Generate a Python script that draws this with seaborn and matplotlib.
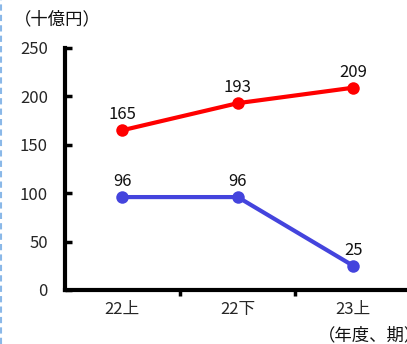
import matplotlib
matplotlib.use("Agg")
import matplotlib.pyplot as plt
import matplotlib.lines as mlines
import seaborn as sns
import pandas as pd

periods = ["22上", "22下", "23上"]
series_a = [165, 193, 209]
series_b = [96, 96, 25]
yticks = [0, 50, 100, 150, 200, 250]

sns.set_theme(style="white")
plt.rcParams["font.family"] = ["Noto Sans CJK JP", "DejaVu Sans"]

df = pd.DataFrame({
    "period": periods * 2,
    "x": list(range(len(periods))) * 2,
    "value": series_a + series_b,
    "series": ["a"] * 3 + ["b"] * 3,
})

fig = plt.figure(figsize=(4.07, 3.44), dpi=100)
ax = fig.add_axes([64.5 / 407, 1 - 290 / 344, (411 - 64.5) / 407, (290 - 48) / 344])

palette = {"a": "#ff0000", "b": "#4444dd"}
sns.lineplot(data=df, x="x", y="value", hue="series", palette=palette,
             marker="o", markersize=9, markeredgewidth=0, linewidth=3,
             legend=False, ax=ax)

for s, vals in (("a", series_a), ("b", series_b)):
    for i, v in enumerate(vals):
        ax.annotate(str(v), (i, v), xytext=(0, 5), textcoords="offset points",
                    ha="center", va="bottom", fontsize=12, color="#111111")

ax.set_xlim(-0.5, 2.5)
ax.set_ylim(0, 250)
ax.set_yticks(yticks)
ax.set_yticklabels([str(t) for t in yticks], fontsize=12)
ax.set_xticks([0.5, 1.5])
ax.set_xticklabels([])
ax.set_xticks(range(len(periods)), minor=True)
ax.set_xticklabels(periods, minor=True, fontsize=12)
ax.tick_params(axis="x", which="major", bottom=True, direction="out", length=4, width=2.5, color="black")
ax.tick_params(axis="x", which="minor", bottom=True, length=0, pad=8)
ax.tick_params(axis="y", left=True, direction="in", length=5, width=2.5, color="black", pad=12)
ax.set_xlabel("")
ax.set_ylabel("")
for side in ("top", "right"):
    ax.spines[side].set_visible(False)
for side in ("left", "bottom"):
    ax.spines[side].set_color("black")
    ax.spines[side].set_linewidth(3)

fig.text(14 / 407, 1 - 19 / 344, "（十億円）", fontsize=12.5, ha="left", va="center", color="#111111")
fig.text(318 / 407, 1 - 335 / 344, "（年度、期）", fontsize=12.5, ha="left", va="center", color="#111111")

fig.add_artist(mlines.Line2D([1 / 407, 1 / 407], [0, 1], transform=fig.transFigure,
                             color="#8ab8e8", linewidth=1.5, linestyle=(0, (3, 2))))

fig.savefig("out.png", dpi=100)
